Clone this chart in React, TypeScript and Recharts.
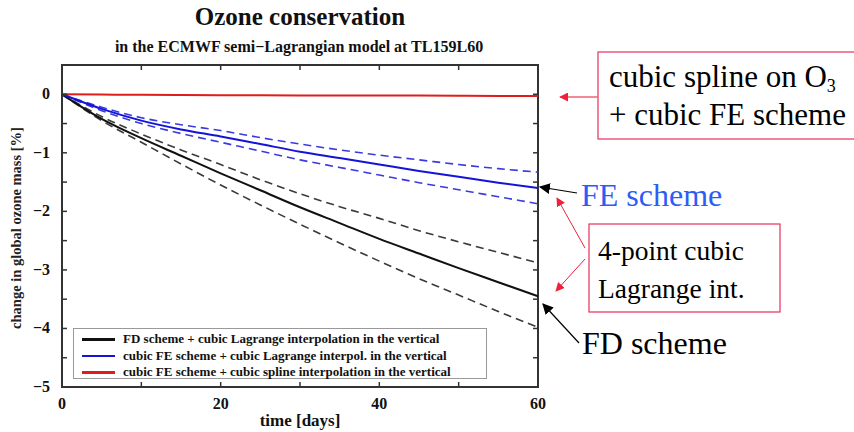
import React from "react";
import {
  LineChart, Line, XAxis, YAxis, ReferenceArea,
} from "recharts";

const SERIF = "'Liberation Serif', 'Times New Roman', serif";
const W = 854, H = 432;
const PL = 62, PR = 538, PT = 65, PB = 387;

const days = [0, 5, 10, 15, 20, 25, 30, 35, 40, 45, 50, 55, 60];
// FD scheme + cubic Lagrange (solid) and its spread (dashed)
const fdMid = [0, -0.42, -0.75, -1.05, -1.35, -1.64, -1.93, -2.2, -2.47, -2.72, -2.97, -3.21, -3.45];
const fdHi = [0, -0.38, -0.68, -0.95, -1.2, -1.46, -1.7, -1.92, -2.12, -2.33, -2.52, -2.7, -2.88];
const fdLo = [0, -0.45, -0.82, -1.19, -1.55, -1.89, -2.22, -2.54, -2.85, -3.15, -3.43, -3.71, -3.98];
// cubic FE scheme + cubic Lagrange
const feMid = [0, -0.25, -0.45, -0.6, -0.72, -0.85, -0.98, -1.09, -1.2, -1.31, -1.41, -1.51, -1.6];
const feHi = [0, -0.22, -0.4, -0.52, -0.62, -0.74, -0.85, -0.95, -1.04, -1.12, -1.2, -1.27, -1.33];
const feLo = [0, -0.28, -0.5, -0.67, -0.82, -0.97, -1.12, -1.25, -1.38, -1.51, -1.63, -1.75, -1.87];
// cubic FE scheme + cubic spline
const spline = [0, -0.005, -0.01, -0.012, -0.015, -0.017, -0.02, -0.02, -0.02, -0.022, -0.025, -0.028, -0.03];

const xTicks = [0, 10, 20, 30, 40, 50, 60];
const yTicks = [-5, -4.5, -4, -3.5, -3, -2.5, -2, -1.5, -1, -0.5, 0, 0.5];

const BLACK = "#111", DASHK = "#3a3a3a", BLUE = "#1414d8", DASHB = "#3a3ae0", RED = "#e01c1c";
const TICK = "#333";

const legendNames = [
  "FD scheme + cubic Lagrange interpolation in the vertical",
  "cubic FE scheme + cubic Lagrange interpol. in the vertical",
  "cubic FE scheme + cubic spline interpolation in the vertical",
];
const legendColors = [BLACK, BLUE, RED];

const data = days.map((d, i) => ({
  day: d,
  fdMid: fdMid[i], fdHi: fdHi[i], fdLo: fdLo[i],
  feMid: feMid[i], feHi: feHi[i], feLo: feLo[i],
  spline: spline[i],
}));

const bold = { fontFamily: SERIF, fontWeight: 700 } as const;

function XTick(props: any) {
  const { x, payload } = props;
  const v = payload.value;
  return (
    <g>
      <line x1={x} x2={x} y1={PB} y2={PB - 5} stroke={TICK} strokeWidth={1.5} />
      <line x1={x} x2={x} y1={PT} y2={PT + 5} stroke={TICK} strokeWidth={1.5} />
      {v % 20 === 0 && (
        <text x={x} y={PB + 22} textAnchor="middle" style={{ ...bold, fontSize: 16 }}
          fill="#111">{v}</text>
      )}
    </g>
  );
}

function YTick(props: any) {
  const { y, payload } = props;
  const v = payload.value;
  const isInt = Number.isInteger(v);
  return (
    <g>
      <line x1={PL} x2={PL + 5} y1={y} y2={y} stroke={TICK} strokeWidth={1.5} />
      <line x1={PR} x2={PR - 5} y1={y} y2={y} stroke={TICK} strokeWidth={1.5} />
      {isInt && v <= 0 && (
        <text x={PL - 12} y={y + 5} textAnchor="end" style={{ ...bold, fontSize: 16 }} fill="#111">
          {v === 0 ? "0" : `\u2212${Math.abs(v)}`}
        </text>
      )}
    </g>
  );
}

function LegendBox() {
  return (
    <div style={{ position: "absolute", left: 73, top: 328, width: 414, height: 51,
      border: "1px solid #999", background: "#fff", boxSizing: "border-box", padding: "2px 0 0 8px" }}>
      {legendNames.map((name, i) => (
        <div key={i} style={{ display: "flex", alignItems: "center", height: 16.5 }}>
          <div style={{ width: 33, height: 2.5, background: legendColors[i], marginRight: 8 }} />
          <span style={{ ...bold, fontSize: 13, color: "#111", whiteSpace: "nowrap" }}>{name}</span>
        </div>
      ))}
    </div>
  );
}

function Annotations() {
  const t = (size: number) => ({ fill: "#000", style: { fontFamily: SERIF, fontSize: size } });
  return (
    <svg width={W} height={H} style={{ position: "absolute", left: 0, top: 0, pointerEvents: "none" }}>
      <defs>
        <marker id="ahR" viewBox="0 0 10 10" refX="9" refY="5" markerWidth="9" markerHeight="9"
          markerUnits="userSpaceOnUse" orient="auto">
          <path d="M0,0 L10,5 L0,10 z" fill="#f0203c" />
        </marker>
        <marker id="ahK" viewBox="0 0 10 10" refX="9" refY="5" markerWidth="11" markerHeight="11"
          markerUnits="userSpaceOnUse" orient="auto">
          <path d="M0,0 L10,5 L0,10 z" fill="#000" />
        </marker>
      </defs>
      {/* top box: cubic spline */}
      <rect x={598} y={52} width={262} height={87} fill="#fff" stroke="#e8305a" strokeWidth={1.2} />
      <text x={609} y={87} {...t(31)}>cubic spline on O<tspan dy={5} style={{ fontSize: 18 }}>3</tspan></text>
      <text x={609} y={125} {...t(31)}>+ cubic FE scheme</text>
      <line x1={598} y1={97} x2={560} y2={97} stroke="#f06070" strokeWidth={1.5} markerEnd="url(#ahR)" />

      {/* FE scheme */}
      <text x={581} y={206} {...t(32)} fill="#2b5cf5">FE scheme</text>
      <line x1={577} y1={193} x2={540} y2={187} stroke="#000" strokeWidth={1.2} markerEnd="url(#ahK)" />

      {/* 4-point cubic Lagrange box */}
      <rect x={589} y={224} width={191} height={88} fill="#fff" stroke="#e8305a" strokeWidth={1.2} />
      <text x={598} y={260} {...t(27.5)}>4-point cubic</text>
      <text x={598} y={298} {...t(27.5)}>Lagrange int.</text>
      <line x1={585} y1={248} x2={557} y2={198} stroke="#f0203c" strokeWidth={1} markerEnd="url(#ahR)" />
      <line x1={585} y1={259} x2={556} y2={291} stroke="#f0203c" strokeWidth={1} markerEnd="url(#ahR)" />

      {/* FD scheme */}
      <text x={582} y={354} {...t(32)}>FD scheme</text>
      <line x1={579} y1={343} x2={543} y2={304} stroke="#000" strokeWidth={1.2} markerEnd="url(#ahK)" />
    </svg>
  );
}

export default function App() {
  return (
    <div style={{ position: "absolute", left: 0, top: 0, width: W, height: H, background: "#fff" }}>
      <LineChart width={W} height={H} data={data}
        margin={{ top: PT, right: W - PR, bottom: 0, left: 0 }}>
        <text x={300} y={25} textAnchor="middle" style={{ ...bold, fontSize: 25 }}
          fill="#111">Ozone conservation</text>
        <text x={299} y={52} textAnchor="middle" style={{ ...bold, fontSize: 16 }}
          fill="#111">in the ECMWF semi{"\u2212"}Lagrangian model at TL159L60</text>
        <text x={21} y={228} transform="rotate(-90 21 228)" textAnchor="middle"
          style={{ ...bold, fontSize: 14.5 }} fill="#222">change in global ozone mass [%]</text>
        <text x={300} y={426} textAnchor="middle" style={{ ...bold, fontSize: 17 }}
          fill="#111">time [days]</text>

        <XAxis dataKey="day" type="number" domain={[0, 60]} ticks={xTicks}
          height={H - PB} tick={<XTick />} tickLine={false} axisLine={false} interval={0} />
        <YAxis type="number" domain={[-5, 0.5]} ticks={yTicks} width={PL}
          tick={<YTick />} tickLine={false} axisLine={false} interval={0} />
        <ReferenceArea x1={0} x2={60} y1={-5} y2={0.5} fill="none" stroke="#333" strokeWidth={2} />

        <Line dataKey="fdHi" type="monotone" stroke={DASHK} strokeWidth={1.6} strokeDasharray="8 5"
          dot={false} isAnimationActive={false} />
        <Line dataKey="fdLo" type="monotone" stroke={DASHK} strokeWidth={1.6} strokeDasharray="8 5"
          dot={false} isAnimationActive={false} />
        <Line dataKey="feHi" type="monotone" stroke={DASHB} strokeWidth={1.6} strokeDasharray="8 5"
          dot={false} isAnimationActive={false} />
        <Line dataKey="feLo" type="monotone" stroke={DASHB} strokeWidth={1.6} strokeDasharray="8 5"
          dot={false} isAnimationActive={false} />
        <Line dataKey="fdMid" type="monotone" stroke={BLACK} strokeWidth={2} dot={false}
          isAnimationActive={false} />
        <Line dataKey="feMid" type="monotone" stroke={BLUE} strokeWidth={2} dot={false}
          isAnimationActive={false} />
        <Line dataKey="spline" type="monotone" stroke={RED} strokeWidth={2} dot={false}
          isAnimationActive={false} />
      </LineChart>
      <LegendBox />
      <Annotations />
    </div>
  );
}
